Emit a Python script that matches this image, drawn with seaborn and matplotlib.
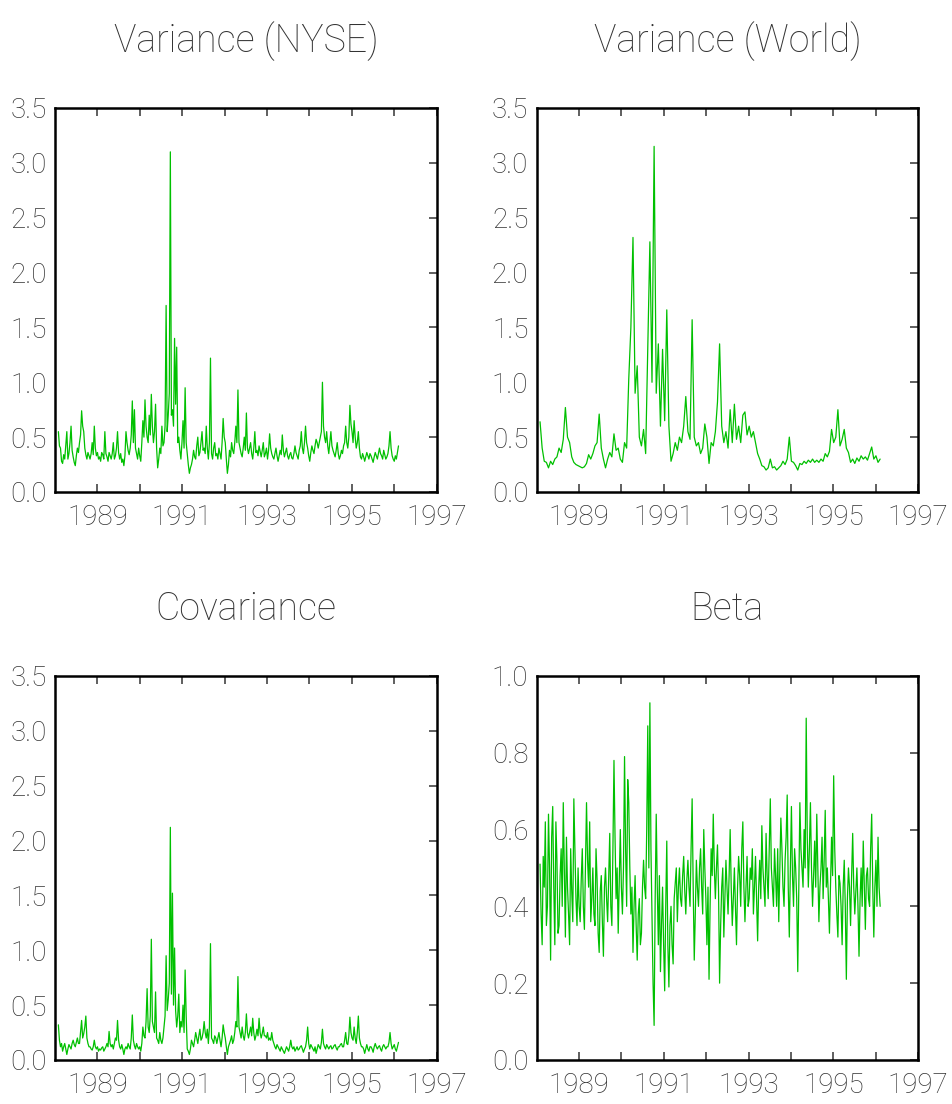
import numpy as np
import pandas as pd
import matplotlib
matplotlib.use("Agg")
import matplotlib.pyplot as plt
from matplotlib import font_manager
from matplotlib.ticker import FixedLocator, FormatStrFormatter
import seaborn as sns

# ---------------- data ----------------
titles = ["Variance (NYSE)", "Variance (World)", "Covariance", "Beta"]
x_start, x_end = 1988.08, 1996.10

var_nyse = [
    0.55, 0.42, 0.40, 0.28, 0.26, 0.34, 0.30, 0.42, 0.55, 0.30, 0.35, 0.45, 0.60, 0.38, 0.32, 0.27, 0.24, 0.33, 0.40, 0.36,
    0.45, 0.52, 0.74, 0.60, 0.55, 0.40, 0.34, 0.30, 0.36, 0.33, 0.30, 0.35, 0.45, 0.34, 0.60, 0.40, 0.33, 0.36, 0.30, 0.32,
    0.28, 0.36, 0.34, 0.30, 0.55, 0.35, 0.32, 0.28, 0.36, 0.33, 0.30, 0.35, 0.45, 0.30, 0.33, 0.40, 0.55, 0.36, 0.30, 0.35,
    0.27, 0.30, 0.24, 0.33, 0.55, 0.45, 0.38, 0.34, 0.40, 0.52, 0.83, 0.45, 0.75, 0.40, 0.35, 0.30, 0.40, 0.33, 0.28, 0.45,
    0.65, 0.50, 0.84, 0.60, 0.50, 0.45, 0.70, 0.52, 0.89, 0.60, 0.45, 0.55, 0.80, 0.40, 0.22, 0.30, 0.40, 0.35, 0.60, 0.42,
    0.45, 0.60, 1.70, 0.55, 0.70, 0.90, 3.10, 0.70, 0.75, 0.60, 1.40, 0.80, 1.32, 0.45, 0.50, 0.38, 0.30, 0.45, 0.65, 0.40,
    0.95, 0.45, 0.35, 0.25, 0.17, 0.22, 0.25, 0.30, 0.38, 0.32, 0.30, 0.42, 0.50, 0.33, 0.36, 0.45, 0.55, 0.38, 0.40, 0.35,
    0.60, 0.40, 0.30, 0.45, 1.22, 0.35, 0.30, 0.40, 0.45, 0.33, 0.35, 0.30, 0.40, 0.35, 0.30, 0.45, 0.67, 0.50, 0.45, 0.30,
    0.17, 0.25, 0.38, 0.32, 0.45, 0.38, 0.35, 0.45, 0.60, 0.45, 0.93, 0.45, 0.40, 0.35, 0.32, 0.40, 0.50, 0.38, 0.72, 0.40,
    0.35, 0.40, 0.45, 0.35, 0.30, 0.40, 0.55, 0.36, 0.38, 0.33, 0.42, 0.37, 0.32, 0.38, 0.45, 0.32, 0.35, 0.40, 0.30, 0.38,
    0.53, 0.40, 0.35, 0.32, 0.30, 0.35, 0.40, 0.33, 0.28, 0.33, 0.38, 0.34, 0.52, 0.38, 0.32, 0.36, 0.40, 0.33, 0.30, 0.34,
    0.36, 0.31, 0.30, 0.35, 0.42, 0.36, 0.33, 0.30, 0.38, 0.42, 0.55, 0.40, 0.35, 0.45, 0.60, 0.45, 0.40, 0.33, 0.28, 0.36,
    0.42, 0.38, 0.35, 0.42, 0.48, 0.45, 0.40, 0.45, 0.50, 0.55, 1.00, 0.60, 0.50, 0.45, 0.55, 0.42, 0.35, 0.45, 0.55, 0.42,
    0.38, 0.35, 0.32, 0.38, 0.45, 0.35, 0.30, 0.33, 0.38, 0.35, 0.42, 0.45, 0.60, 0.45, 0.40, 0.50, 0.79, 0.62, 0.55, 0.45,
    0.65, 0.50, 0.40, 0.45, 0.55, 0.40, 0.32, 0.30, 0.35, 0.32, 0.28, 0.32, 0.36, 0.33, 0.30, 0.35, 0.33, 0.30, 0.27, 0.32,
    0.36, 0.33, 0.30, 0.35, 0.40, 0.35, 0.33, 0.30, 0.38, 0.34, 0.30, 0.32, 0.35, 0.42, 0.55, 0.40, 0.33, 0.30, 0.28, 0.33,
    0.30, 0.36, 0.42,
]

var_world = [
    0.64, 0.40, 0.28, 0.27, 0.22, 0.28, 0.25, 0.30, 0.32, 0.40, 0.36, 0.48, 0.77, 0.50, 0.45, 0.32, 0.27, 0.25, 0.24, 0.23,
    0.22, 0.23, 0.26, 0.34, 0.30, 0.35, 0.42, 0.45, 0.71, 0.40, 0.30, 0.22, 0.30, 0.36, 0.32, 0.53, 0.38, 0.40, 0.30, 0.27,
    0.45, 0.40, 1.03, 1.50, 2.32, 0.90, 1.15, 0.50, 0.42, 0.57, 0.35, 1.30, 2.28, 1.00, 3.15, 0.90, 1.35, 0.60, 1.30, 0.65,
    1.66, 0.60, 0.28, 0.35, 0.45, 0.38, 0.50, 0.45, 0.60, 0.87, 0.55, 0.48, 1.57, 0.50, 0.42, 0.45, 0.35, 0.40, 0.62, 0.50,
    0.26, 0.45, 0.42, 0.55, 0.82, 1.35, 0.60, 0.45, 0.55, 0.40, 0.75, 0.45, 0.80, 0.48, 0.60, 0.45, 0.70, 0.73, 0.52, 0.60,
    0.50, 0.55, 0.45, 0.35, 0.30, 0.24, 0.23, 0.20, 0.22, 0.30, 0.22, 0.23, 0.20, 0.22, 0.24, 0.28, 0.25, 0.30, 0.50, 0.28,
    0.27, 0.24, 0.20, 0.26, 0.25, 0.28, 0.26, 0.29, 0.27, 0.30, 0.27, 0.29, 0.27, 0.30, 0.28, 0.35, 0.32, 0.37, 0.57, 0.45,
    0.50, 0.75, 0.42, 0.48, 0.57, 0.40, 0.36, 0.27, 0.30, 0.26, 0.31, 0.28, 0.33, 0.30, 0.32, 0.29, 0.35, 0.41, 0.30, 0.33,
    0.27, 0.30,
]

covariance = [
    0.32, 0.18, 0.12, 0.15, 0.08, 0.12, 0.15, 0.10, 0.05, 0.10, 0.14, 0.12, 0.10, 0.15, 0.18, 0.14, 0.12, 0.16, 0.20, 0.15,
    0.15, 0.25, 0.36, 0.20, 0.24, 0.30, 0.40, 0.20, 0.15, 0.12, 0.12, 0.10, 0.09, 0.12, 0.18, 0.12, 0.10, 0.12, 0.08, 0.10,
    0.09, 0.11, 0.12, 0.08, 0.10, 0.12, 0.15, 0.12, 0.26, 0.15, 0.12, 0.14, 0.10, 0.15, 0.20, 0.18, 0.36, 0.18, 0.12, 0.10,
    0.14, 0.10, 0.05, 0.10, 0.12, 0.10, 0.15, 0.12, 0.10, 0.20, 0.41, 0.18, 0.13, 0.10, 0.15, 0.12, 0.10, 0.12, 0.08, 0.15,
    0.30, 0.22, 0.20, 0.35, 0.65, 0.30, 0.25, 0.40, 1.10, 0.35, 0.30, 0.25, 0.62, 0.20, 0.18, 0.15, 0.25, 0.18, 0.15, 0.20,
    0.30, 0.40, 0.95, 0.45, 0.55, 0.70, 2.12, 0.60, 1.52, 0.50, 1.02, 0.45, 0.30, 0.40, 0.60, 0.25, 0.35, 0.30, 0.50, 0.25,
    0.82, 0.40, 0.10, 0.08, 0.05, 0.10, 0.18, 0.15, 0.12, 0.18, 0.25, 0.20, 0.15, 0.22, 0.28, 0.18, 0.20, 0.25, 0.35, 0.25,
    0.20, 0.28, 0.15, 0.30, 1.06, 0.20, 0.18, 0.15, 0.22, 0.20, 0.15, 0.20, 0.25, 0.18, 0.12, 0.20, 0.32, 0.25, 0.20, 0.12,
    0.05, 0.12, 0.15, 0.18, 0.22, 0.15, 0.18, 0.25, 0.35, 0.30, 0.76, 0.30, 0.25, 0.20, 0.30, 0.22, 0.18, 0.25, 0.42, 0.25,
    0.20, 0.25, 0.30, 0.22, 0.38, 0.25, 0.18, 0.22, 0.28, 0.22, 0.38, 0.25, 0.20, 0.24, 0.30, 0.22, 0.22, 0.20, 0.25, 0.18,
    0.20, 0.18, 0.25, 0.18, 0.15, 0.12, 0.10, 0.14, 0.12, 0.10, 0.08, 0.12, 0.10, 0.08, 0.06, 0.09, 0.12, 0.10, 0.08, 0.12,
    0.18, 0.12, 0.10, 0.12, 0.08, 0.10, 0.12, 0.09, 0.10, 0.12, 0.13, 0.10, 0.07, 0.10, 0.12, 0.18, 0.30, 0.15, 0.10, 0.14,
    0.12, 0.10, 0.08, 0.12, 0.06, 0.10, 0.14, 0.12, 0.10, 0.16, 0.28, 0.15, 0.12, 0.10, 0.14, 0.12, 0.10, 0.12, 0.13, 0.10,
    0.11, 0.13, 0.14, 0.11, 0.09, 0.12, 0.12, 0.14, 0.15, 0.12, 0.12, 0.18, 0.25, 0.15, 0.14, 0.22, 0.39, 0.25, 0.20, 0.18,
    0.30, 0.20, 0.15, 0.25, 0.40, 0.20, 0.15, 0.12, 0.12, 0.10, 0.06, 0.10, 0.14, 0.10, 0.08, 0.12, 0.12, 0.10, 0.07, 0.12,
    0.15, 0.12, 0.10, 0.12, 0.13, 0.10, 0.08, 0.12, 0.14, 0.12, 0.10, 0.12, 0.12, 0.16, 0.25, 0.15, 0.10, 0.12, 0.14, 0.10,
    0.08, 0.12, 0.16,
]

beta = [
    0.51, 0.38, 0.30, 0.53, 0.45, 0.62, 0.35, 0.40, 0.64, 0.50, 0.26, 0.58, 0.66, 0.45, 0.30, 0.62, 0.52, 0.33, 0.35, 0.48,
    0.55, 0.40, 0.67, 0.50, 0.32, 0.58, 0.45, 0.38, 0.30, 0.55, 0.44, 0.36, 0.68, 0.55, 0.42, 0.35, 0.50, 0.40, 0.36, 0.47,
    0.55, 0.40, 0.34, 0.50, 0.67, 0.52, 0.45, 0.62, 0.36, 0.42, 0.50, 0.38, 0.35, 0.55, 0.47, 0.33, 0.28, 0.44, 0.48, 0.36,
    0.27, 0.45, 0.50, 0.42, 0.36, 0.48, 0.59, 0.40, 0.35, 0.55, 0.78, 0.58, 0.42, 0.50, 0.33, 0.46, 0.60, 0.45, 0.38, 0.50,
    0.79, 0.55, 0.40, 0.73, 0.67, 0.50, 0.38, 0.45, 0.28, 0.40, 0.48, 0.35, 0.26, 0.38, 0.42, 0.30, 0.33, 0.45, 0.52, 0.45,
    0.42, 0.60, 0.87, 0.50, 0.93, 0.55, 0.38, 0.20, 0.09, 0.42, 0.64, 0.45, 0.30, 0.48, 0.23, 0.35, 0.45, 0.30, 0.18, 0.40,
    0.57, 0.30, 0.19, 0.35, 0.40, 0.30, 0.25, 0.42, 0.46, 0.50, 0.36, 0.45, 0.50, 0.42, 0.40, 0.48, 0.53, 0.44, 0.38, 0.47,
    0.52, 0.45, 0.40, 0.55, 0.68, 0.45, 0.26, 0.38, 0.52, 0.45, 0.40, 0.50, 0.55, 0.45, 0.38, 0.60, 0.50, 0.42, 0.30, 0.45,
    0.21, 0.40, 0.55, 0.48, 0.64, 0.50, 0.42, 0.50, 0.56, 0.44, 0.20, 0.35, 0.45, 0.50, 0.32, 0.42, 0.52, 0.45, 0.38, 0.48,
    0.60, 0.45, 0.35, 0.42, 0.50, 0.40, 0.30, 0.45, 0.53, 0.48, 0.40, 0.55, 0.62, 0.45, 0.36, 0.45, 0.53, 0.40, 0.42, 0.50,
    0.47, 0.55, 0.38, 0.45, 0.53, 0.42, 0.31, 0.45, 0.52, 0.42, 0.61, 0.50, 0.45, 0.40, 0.59, 0.48, 0.42, 0.55, 0.68, 0.50,
    0.45, 0.40, 0.55, 0.48, 0.40, 0.55, 0.36, 0.50, 0.63, 0.55, 0.45, 0.40, 0.52, 0.58, 0.69, 0.45, 0.32, 0.50, 0.66, 0.48,
    0.40, 0.55, 0.50, 0.42, 0.23, 0.45, 0.67, 0.55, 0.50, 0.45, 0.60, 0.50, 0.89, 0.58, 0.45, 0.55, 0.67, 0.50, 0.40, 0.48,
    0.57, 0.45, 0.64, 0.50, 0.36, 0.45, 0.50, 0.58, 0.42, 0.52, 0.65, 0.45, 0.50, 0.42, 0.33, 0.45, 0.58, 0.48, 0.74, 0.55,
    0.45, 0.38, 0.32, 0.48, 0.46, 0.40, 0.30, 0.45, 0.52, 0.40, 0.21, 0.42, 0.50, 0.45, 0.35, 0.48, 0.59, 0.45, 0.38, 0.44,
    0.50, 0.40, 0.27, 0.42, 0.50, 0.40, 0.57, 0.45, 0.34, 0.48, 0.50, 0.42, 0.40, 0.55, 0.64, 0.45, 0.32, 0.45, 0.52, 0.40,
    0.58, 0.45, 0.40,
]

series = [var_nyse, var_world, covariance, beta]
y_limits = [(0, 3.5), (0, 3.5), (0, 3.5), (0, 1.0)]
y_ticks = [[0, 0.5, 1.0, 1.5, 2.0, 2.5, 3.0, 3.5]] * 3 + [[0, 0.2, 0.4, 0.6, 0.8, 1.0]]
x_major = [1989, 1991, 1993, 1995, 1997]
x_minor = [1990, 1992, 1994, 1996]

# ---------------- style ----------------
sns.set_style("white")
ttf = font_manager.fontManager.ttflist
names = {f.name for f in ttf}
weight = "normal"
if "Liberation Sans Narrow" in names:
    fam, title_fs, tick_fs = "Liberation Sans Narrow", 30, 22
elif "Roboto" in names:
    fam, title_fs, tick_fs = "Roboto", 27, 20
    ws = [f.weight for f in ttf if f.name == "Roboto"]
    if any((isinstance(w, int) and w <= 300) or w in ("light", "thin", "extra-light") for w in ws):
        weight = "light"
else:
    fam, title_fs, tick_fs = "DejaVu Sans", 23, 17
plt.rcParams["font.family"] = [fam, "DejaVu Sans"]
plt.rcParams["font.weight"] = weight

line_color = "#00c000"
text_color = "#333333"

fig, axes = plt.subplots(2, 2, figsize=(9.53, 11.04), dpi=100)
fig.subplots_adjust(left=0.0577, right=0.9636, bottom=0.0399, top=0.9022,
                    wspace=0.262, hspace=0.479)

for ax, vals, title, ylim, yt in zip(axes.flat, series, titles, y_limits, y_ticks):
    n = len(vals)
    df = pd.DataFrame({"year": np.linspace(x_start, x_end, n), "value": vals})
    sns.lineplot(data=df, x="year", y="value", ax=ax, color=line_color,
                 linewidth=0.9, estimator=None, sort=False)
    ax.set_xlim(1988, 1997)
    ax.set_ylim(*ylim)
    ax.set_xlabel("")
    ax.set_ylabel("")
    ax.xaxis.set_major_locator(FixedLocator(x_major))
    ax.xaxis.set_minor_locator(FixedLocator(x_minor))
    ax.yaxis.set_major_locator(FixedLocator(yt))
    ax.yaxis.set_major_formatter(FormatStrFormatter("%.1f"))
    ax.tick_params(axis="x", which="both", direction="in", top=True, bottom=True,
                   length=6, width=1.2, color="#444444", labelsize=tick_fs,
                   labelcolor=text_color, pad=9)
    ax.tick_params(axis="y", which="both", direction="in", left=False, right=True,
                   labelleft=True, length=6, width=1.2, color="#444444",
                   labelsize=tick_fs, labelcolor=text_color, pad=6)
    for sp in ax.spines.values():
        sp.set_visible(True)
        sp.set_color("black")
        sp.set_linewidth(1.8)
    ax.set_title(title, fontsize=title_fs, color=text_color, pad=40,
                 fontweight=weight)
    ax.grid(False)

fig.savefig("out.png", dpi=100, facecolor="white")
